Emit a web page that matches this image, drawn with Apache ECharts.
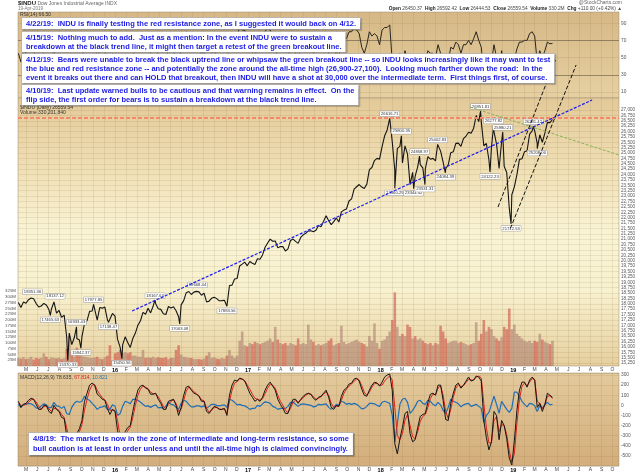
<!DOCTYPE html>
<html>
<head>
<meta charset="utf-8">
<title>$INDU</title>
<script src="https://cdn.jsdelivr.net/npm/echarts@6/dist/echarts.min.js"></script>
<style>
  html, body { margin: 0; padding: 0; background: #fff; }
  #chart { width: 640px; height: 473px; }
</style>
</head>
<body>
<div id="chart"></div>
<script>
// weekly data, one value per Friday starting 2015-04-10
const firstFriday = '2015-04-10';
const axisStart = '2015-04-09';
const axisEnd = '2019-10-19';

const close2015 = [18057,17826,18080,18024,18191,18272,18232,18010,17849,17898,18015,17947,17730,17760,18086,17568,17690,17373,17477,16460,16643,16102,16433,16385,16315,16472,17084,17216,17647,17664,17910,17245,17824,17798,17848,17265,17128,17552];
const close2016 = [17425,16347,15988,16094,16466,16205,15974,16392,16640,17007,17214,17602,17516,17793,17577,17898,18004,17774,17741,17535,17501,17873,17807,17865,17675,17400,17949,18147,18516,18571,18432,18543,18576,18553,18395,18492,18085,18124,18261,18308,18240,18138,18145,18161,17888,18848,18868,19152,19171,19757,19843,19934,19763];
const close2017 = [19964,19886,19827,20094,20071,20269,20624,20822,21005,20903,20915,20596,20663,20656,20453,20548,20941,21007,20897,20805,21080,21206,21272,21384,21395,21350,21414,21638,21580,21830,22093,21858,21675,21814,21988,21798,22268,22350,22405,22774,22871,23329,23434,23539,23422,23358,23558,24232,24329,24652,24754,24719];
const close2018 = [25296,25803,26072,26616,25521,24191,25219,25310,24538,25336,24947,23533,24103,23933,24360,24463,24311,24263,24831,24715,24753,24635,25317,25090,24581,24271,24456,25019,25058,25451,25463,25313,25669,25790,25965,25917,26155,26744,26458,26447,25340,25444,24688,25271,25989,25413,24286,25538,24389,24101,22445,23062];
const close2019 = [23433,23996,24706,24737,25064,25106,25883,26031,26026,25450,25849,25502,25929,26425,26412,26559.54];

// volume, millions
const vol2015 = [35,32,38,30,33,40,28,35,32,36,55,40,30,38,35,33,36,30,34,75,130,60,40,80,45,42,40,38,36,35,37,40,33,30,38,45,90,25];
const vol2016 = [55,60,70,55,60,55,60,45,45,40,40,70,35,38,35,40,35,38,35,35,38,30,35,35,70,90,50,40,38,35,35,30,30,30,28,32,45,60,35,38,32,30,35,32,45,70,45,35,45,110,150,90,85];
const vol2017 = [100,95,105,100,95,100,105,110,120,105,170,115,100,95,100,90,100,95,90,120,95,100,95,180,115,105,90,95,90,95,100,110,120,90,95,100,175,105,95,100,105,110,115,105,100,95,85,130,110,185,100,75];
const vol2018 = [110,115,130,150,200,320,170,130,140,130,180,170,120,130,115,120,110,100,95,100,90,100,95,175,150,120,100,105,110,110,100,105,100,95,90,95,100,190,110,140,200,150,170,160,130,120,110,125,170,160,250,160];
const vol2019 = [180,140,130,120,110,105,110,100,110,105,140,115,105,100,95,110];

const rsi2015 = [55,45,60,55,62,65,60,45,40,48,55,48,40,45,62,38,48,35,45,22,35,30,45,42,40,48,65,68,75,72,70,45,60,58,58,42,40,55];
const rsi2016 = [48,28,25,35,45,38,32,52,60,68,70,75,68,72,55,68,70,52,50,42,45,62,58,60,45,40,62,70,80,78,60,65,68,65,52,60,35,45,55,58,52,45,48,50,35,75,72,78,76,85,82,82,60];
const rsi2017 = [62,55,52,62,58,70,80,85,82,70,68,42,50,50,40,48,65,65,55,50,65,68,65,65,62,55,58,68,62,72,75,55,42,50,58,48,72,75,72,80,80,85,82,78,62,55,65,80,75,78,75,65];
const rsi2018 = [82,85,85,88,45,25,52,55,40,58,48,28,40,38,50,52,45,45,58,55,55,50,65,55,40,35,45,62,60,68,65,55,65,65,70,65,72,80,70,62,30,40,30,45,65,50,30,58,38,35,22,40];
const rsi2019 = [48,60,68,68,70,70,78,80,75,45,58,50,58,68,66,66.5];

const macd2015 = [40,-20,10,20,50,70,60,10,-40,-40,0,0,-60,-80,0,-40,-60,-120,-130,-300,-440,-420,-360,-280,-230,-150,40,120,200,220,200,110,90,60,50,-30,-90,-40];
const macd2016 = [-60,-250,-380,-360,-260,-220,-200,-60,60,150,190,200,170,160,110,110,120,60,20,-40,-40,40,50,60,0,-100,-20,100,180,190,150,120,110,90,40,40,-60,-80,-40,-10,-20,-40,-40,-30,-100,100,200,250,240,270,260,240,180];
const macd2017 = [120,80,40,60,40,80,150,200,230,190,150,60,10,-30,-80,-80,0,60,60,20,60,90,110,120,110,70,50,80,90,120,150,80,-20,-40,0,-10,90,150,170,210,220,260,270,240,160,100,90,150,200,230,220,190];
const macd2018 = [230,280,300,310,150,-380,-480,-330,-220,-80,-60,-280,-360,-340,-220,-110,-90,-80,30,110,120,100,200,200,50,-140,-150,20,120,200,220,170,200,240,280,240,250,290,280,240,-150,-320,-440,-360,-60,-100,-340,-150,-200,-330,-520,-590];
const macd2019 = [-350,-50,150,230,230,180,250,280,250,-20,20,-60,10,120,100,78.635];

const signal2015 = [30,0,0,10,30,55,60,35,-10,-35,-15,-5,-35,-60,-30,-35,-50,-90,-120,-220,-350,-400,-380,-320,-260,-190,-50,60,150,200,205,150,110,75,55,10,-50,-45];
const signal2016 = [-50,-150,-300,-350,-300,-250,-215,-120,0,100,160,190,180,165,130,115,115,85,40,-10,-30,10,40,55,20,-60,-40,50,140,180,165,135,115,95,55,45,-30,-70,-50,-20,-20,-35,-40,-35,-80,40,150,220,235,260,260,245,200];
const signal2017 = [160,110,70,60,50,65,115,170,210,200,170,100,40,0,-50,-70,-30,30,50,30,50,75,100,115,110,85,60,70,85,110,135,100,20,-20,-10,-10,50,120,160,190,210,240,260,250,195,130,100,130,180,215,220,200];
const signal2018 = [200,240,270,290,250,-20,-300,-340,-280,-150,-90,-200,-310,-330,-260,-160,-110,-90,-20,70,110,105,170,195,100,-60,-130,-40,80,170,205,185,195,225,260,250,250,280,290,270,20,-220,-370,-370,-150,-110,-260,-190,-200,-290,-450,-560];
const signal2019 = [-480,-180,60,190,220,195,230,265,255,40,20,-30,0,90,95,67.814];

// labelled highs / lows (intraday extremes)
const pivots = [
  ['2015-05-19', 18351.36, 'top'], ['2015-07-07', 17465.63, 'bottom'], ['2015-07-20', 18137.12, 'top'],
  ['2015-08-24', 15370.33, 'bottom'], ['2015-09-17', 16933.43, 'top'], ['2015-09-29', 15942.37, 'bottom'],
  ['2015-11-03', 17977.85, 'top'], ['2015-12-14', 17138.47, 'bottom'], ['2016-01-20', 15450.56, 'bottom'],
  ['2016-04-20', 18167.63, 'top'], ['2016-06-27', 17063.08, 'bottom'], ['2016-08-15', 18668.44, 'top'],
  ['2016-11-04', 17883.56, 'bottom'], ['2018-01-26', 26616.71, 'top'], ['2018-02-09', 23360.29, 'bottom'],
  ['2018-02-27', 25800.35, 'top'], ['2018-04-02', 23344.52, 'bottom'], ['2018-04-18', 24858.97, 'top'],
  ['2018-05-03', 23531.31, 'bottom'], ['2018-06-07', 25402.83, 'top'], ['2018-06-28', 24084.39, 'bottom'],
  ['2018-10-03', 26951.81, 'top'], ['2018-10-29', 24122.23, 'bottom'], ['2018-11-08', 26277.82, 'top'],
  ['2018-12-03', 25980.21, 'top'], ['2018-12-26', 21712.53, 'bottom'], ['2019-02-25', 26241.42, 'top'],
  ['2019-03-08', 25208.00, 'bottom']
];

// hand-drawn trend lines, [date, price] end points
const trendBlue = [['2016-02-17', 17665], ['2019-08-06', 27464]];
const trendGreen = [['2018-09-04', 27139], ['2019-10-19', 24910]];
const channelUpper = [['2018-11-20', 22495], ['2019-04-27', 29322]];
const channelLower = [['2018-12-24', 21496], ['2019-06-23', 29090]];
const resistance = 26640;
const lastClose = 26559.54;

const monthLetters = ['J','F','M','A','M','J','J','A','S','O','N','D'];
const rsiTicks = [10, 30, 50, 70, 90];
const priceTickFrom = 15250, priceTickTo = 27000, priceTickStep = 250;

const closes = [].concat(close2015, close2016, close2017, close2018, close2019);
const volumes = [].concat(vol2015, vol2016, vol2017, vol2018, vol2019);
const rsis = [].concat(rsi2015, rsi2016, rsi2017, rsi2018, rsi2019);
const macds = [].concat(macd2015, macd2016, macd2017, macd2018, macd2019);
const signals = [].concat(signal2015, signal2016, signal2017, signal2018, signal2019);

function ts(s) { return echarts.time.parse(s).getTime(); }
const DAY = 86400000;
const t0 = ts(firstFriday);
const weeks = closes.map((_, i) => t0 + i * 7 * DAY);

const priceData = weeks.map((d, i) => [d, closes[i]])
  .concat(pivots.map(p => [ts(p[0]), p[1]]))
  .sort((a, b) => a[0] - b[0]);

const volumeData = weeks.map((d, i) => ({
  value: [d, volumes[i]],
  itemStyle: { color: i > 0 && closes[i] < closes[i - 1] ? 'rgba(205,85,75,0.62)' : 'rgba(165,118,108,0.55)' }
}));

const monthTickValues = [];
for (let y = 2015; y <= 2019; y++) {
  for (let m = 1; m <= 12; m++) {
    const s = y + '-' + String(m).padStart(2, '0') + '-01';
    if (s > axisStart && s < axisEnd) monthTickValues.push(ts(s));
  }
}
const priceTicks = [];
for (let v = priceTickFrom; v <= priceTickTo; v += priceTickStep) priceTicks.push(v);

const gridColor = 'rgba(130,100,55,0.2)';
const font = 'Liberation Sans, Arial, sans-serif';

function monthLabel(v) {
  const d = new Date(v);
  const m = d.getMonth();
  return m === 0 ? '{yr|' + String(d.getFullYear()).slice(2) + '}' : monthLetters[m];
}

function dateAxis(gridIndex, showLabels) {
  return {
    type: 'value', gridIndex: gridIndex, min: ts(axisStart), max: ts(axisEnd),
    axisLine: { show: false },
    axisTick: { show: false, customValues: monthTickValues },
    axisLabel: {
      show: showLabels, customValues: monthTickValues, formatter: monthLabel,
      fontSize: 5, color: '#444', margin: 1.5,
      rich: { yr: { fontSize: 5.5, fontWeight: 'bold', color: '#000' } }
    },
    splitLine: { show: true, lineStyle: { color: gridColor, width: 0.6 } }
  };
}

function vgrad(stops) {
  return { type: 'linear', x: 0, y: 0, x2: 0, y2: 1, colorStops: stops.map(s => ({ offset: s[0], color: s[1] })) };
}

function boxText(text, x, y, lh) {
  return {
    type: 'text', x: x, y: y, z: 100,
    style: {
      text: text, fill: '#1a1ae6', fontSize: 7.5, fontWeight: 'bold', fontFamily: font,
      lineHeight: lh, verticalAlign: 'top', backgroundColor: '#fff',
      borderColor: '#b4b4b4', borderWidth: 0.8, padding: [1, 4, 1, 4],
      shadowColor: 'rgba(0,0,0,0.25)', shadowOffsetX: 1, shadowOffsetY: 1, shadowBlur: 1
    }
  };
}

function plainText(text, x, y, size, color, align, rich) {
  const style = { text: text, fill: color, fontSize: size, fontFamily: font, align: align || 'left', verticalAlign: 'top' };
  if (rich) style.rich = rich;
  return { type: 'text', x: x, y: y, z: 100, style: style };
}

function valueBox(v, txt, color) {
  return {
    yAxis: v, lineStyle: { opacity: 0 },
    label: {
      show: true, position: 'end', formatter: txt, fontSize: 4.6, color: color || '#222',
      backgroundColor: '#dedede', borderColor: '#888', borderWidth: 0.5, padding: [0.5, 1], distance: 1
    }
  };
}

function trendSeries(name, pair, color, width, dash) {
  return {
    name: name, type: 'line', xAxisIndex: 1, yAxisIndex: 1, clip: false, silent: true,
    showSymbol: false, symbol: 'none', z: 5,
    lineStyle: { color: color, width: width, type: dash },
    data: pair.map(p => [ts(p[0]), p[1]])
  };
}

const chart = echarts.init(document.getElementById('chart'));

chart.setOption({
  animation: false,
  textStyle: { fontFamily: font },
  grid: [
    { left: 18, right: 21, top: 12, height: 86, show: true, outerBoundsMode: 'none',
      backgroundColor: vgrad([[0, '#d6b886'], [1, '#e6d0a2']]), borderColor: '#9a8a70', borderWidth: 0.5 },
    { left: 18, right: 21, top: 98, height: 268, show: true, outerBoundsMode: 'none',
      backgroundColor: vgrad([[0, '#e3c999'], [0.25, '#efdeb3'], [0.5, '#f9f3d4'], [0.72, '#f8f1cf'], [1, '#e6cf9e']]),
      borderColor: '#9a8a70', borderWidth: 0.5 },
    { left: 18, right: 21, top: 373, height: 93, show: true, outerBoundsMode: 'none',
      backgroundColor: vgrad([[0, '#e3ca9c'], [1, '#d3ad7b']]), borderColor: '#9a8a70', borderWidth: 0.5 }
  ],
  xAxis: [dateAxis(0, false), dateAxis(1, true), dateAxis(2, true)],
  yAxis: [
    { type: 'value', gridIndex: 0, position: 'right', min: 3, max: 103,
      axisLine: { show: false }, axisTick: { show: false, customValues: rsiTicks },
      axisLabel: { customValues: rsiTicks, fontSize: 4.8, color: '#555', margin: 2 },
      splitLine: { lineStyle: { color: gridColor, width: 0.6 } } },
    { type: 'value', gridIndex: 1, position: 'right', min: 15111, max: 27557,
      axisLine: { show: false }, axisTick: { show: false, customValues: priceTicks },
      axisLabel: { customValues: priceTicks, fontSize: 4.6, color: '#555', margin: 2 },
      splitLine: { lineStyle: { color: gridColor, width: 0.6 } } },
    { type: 'value', gridIndex: 1, position: 'left', min: 0, max: 1165, interval: 25,
      axisLine: { show: false }, axisTick: { show: false }, splitLine: { show: false },
      axisLabel: { fontSize: 4.4, color: '#555', margin: 2, formatter: v => (v > 0 && v <= 325 ? v + 'M' : '') } },
    { type: 'value', gridIndex: 2, position: 'right', min: -600, max: 320, interval: 100,
      axisLine: { show: false }, axisTick: { show: false },
      axisLabel: { fontSize: 4.8, color: '#555', margin: 2, formatter: v => (v === 320 || v === -600 ? '' : v) },
      splitLine: { lineStyle: { color: gridColor, width: 0.6 } } }
  ],
  series: [
    {
      name: 'RSI', type: 'line', xAxisIndex: 0, yAxisIndex: 0, showSymbol: false, symbol: 'none',
      lineStyle: { color: '#151515', width: 0.9 }, data: weeks.map((d, i) => [d, rsis[i]]),
      markLine: {
        silent: true, symbol: ['none', 'none'], label: { show: false },
        lineStyle: { color: 'rgba(80,70,55,0.6)', type: 'solid', width: 0.8 },
        data: [{ yAxis: 70 }, { yAxis: 30 }, valueBox(66.5, '66.50')]
      }
    },
    {
      name: 'Volume', type: 'bar', xAxisIndex: 1, yAxisIndex: 2, barWidth: 2.6,
      data: volumeData
    },
    {
      name: '$INDU', type: 'line', xAxisIndex: 1, yAxisIndex: 1, showSymbol: false, symbol: 'none',
      lineStyle: { color: '#151515', width: 1.1 }, data: priceData, z: 4,
      markLine: {
        silent: true, symbol: ['none', 'none'], label: { show: false },
        data: [
          { yAxis: resistance, lineStyle: { color: '#f2896b', width: 2, type: [4, 2] } },
          valueBox(lastClose, '26559.54')
        ]
      },
      markPoint: {
        silent: true, symbol: 'rect', symbolSize: 1, itemStyle: { color: 'transparent' },
        label: {
          show: true, fontSize: 4.2, color: '#333', backgroundColor: '#fff', borderColor: '#999',
          borderWidth: 0.5, padding: [0.5, 1], formatter: p => Number(p.value).toFixed(2)
        },
        data: pivots.map(p => ({ coord: [ts(p[0]), p[1]], value: p[1], label: { position: p[2], distance: 1.5 } }))
      }
    },
    trendSeries('Uptrend', trendBlue, '#1d1df0', 1.2, [3, 1.5]),
    trendSeries('Breakout', trendGreen, '#86b35a', 1, [3, 1.5]),
    trendSeries('Channel top', channelUpper, '#111', 1, [4, 2]),
    trendSeries('Channel bottom', channelLower, '#111', 1, [4, 2]),
    {
      name: 'Histogram', type: 'line', xAxisIndex: 2, yAxisIndex: 3, showSymbol: false, symbol: 'none',
      lineStyle: { color: '#1f6fb8', width: 1.2 }, data: weeks.map((d, i) => [d, macds[i] - signals[i]])
    },
    {
      name: 'Signal', type: 'line', xAxisIndex: 2, yAxisIndex: 3, showSymbol: false, symbol: 'none',
      lineStyle: { color: '#e0201a', width: 1 }, data: weeks.map((d, i) => [d, signals[i]])
    },
    {
      name: 'MACD', type: 'line', xAxisIndex: 2, yAxisIndex: 3, showSymbol: false, symbol: 'none',
      lineStyle: { color: '#151515', width: 1 }, data: weeks.map((d, i) => [d, macds[i]]),
      markLine: {
        silent: true, symbol: ['none', 'none'], label: { show: false },
        data: [valueBox(78.635, '78.635'), valueBox(10.821, '10.821', '#1f6fb8')]
      }
    }
  ],
  graphic: {
    elements: [
      plainText('{a|$INDU} Dow Jones Industrial Average INDX', 18, 0.5, 5, '#666', 'left',
        { a: { fontSize: 6, fontWeight: 'bold', fill: '#222' } }),
      plainText('19-Apr-2019', 18, 6.5, 4.5, '#777'),
      plainText('@StockCharts.com', 622, 0.5, 5, '#666', 'right'),
      plainText('{b|Open} 26450.37  {b|High} 26592.42  {b|Low} 26444.53  {b|Close} 26559.54  {b|Volume} 330.2M  {b|Chg} +110.00 (+0.42%) \u25B2',
        622, 6.5, 4.8, '#444', 'right', { b: { fontSize: 4.8, fontWeight: 'bold', fill: '#222' } }),
      plainText('RSI(14) 66.50', 20, 12.5, 5, '#333'),
      plainText('$INDU (Daily) 26559.54', 20, 105, 5, '#333'),
      plainText('Volume 330,201,840', 20, 110, 5, '#333'),
      plainText('MACD(12,26,9) 78.635, {r|67.814}, {bl|10.821}', 20, 375, 5, '#333', 'left',
        { r: { fill: '#e0201a', fontSize: 5 }, bl: { fill: '#1f6fb8', fontSize: 5 } }),
      boxText('4/22/19:  INDU is finally testing the red resistance zone, as I suggested it would back on 4/12.', 22, 18, 9),
      boxText('4/15/19:  Nothing much to add.  Just as a mention: In the event INDU were to sustain a\nbreakdown at the black trend line, it might then target a retest of the green breakout line.', 22, 32, 9),
      boxText('4/12/19:  Bears were unable to break the black uptrend line or whipsaw the green breakout line -- so INDU looks increasingly like it may want to test\nthe blue and red resistance zone -- and potentially the zone around the all-time high (26,900-27,100).  Looking much farther down the road:  In the\nevent it breaks out there and can HOLD that breakout, then INDU will have a shot at 30,000 over the intermediate term.  First things first, of course.', 22, 54, 9),
      boxText('4/10/19:  Last update warned bulls to be cautious and that warning remains in effect.  On the\nflip side, the first order for bears is to sustain a breakdown at the black trend line.', 22, 85, 9),
      boxText('4/8/19:  The market is now in the zone of intermediate and long-term resistance, so some\nbull caution is at least in order unless and until the all-time high is claimed convincingly.', 29, 433, 10)
    ]
  }
});
</script>
</body>
</html>
